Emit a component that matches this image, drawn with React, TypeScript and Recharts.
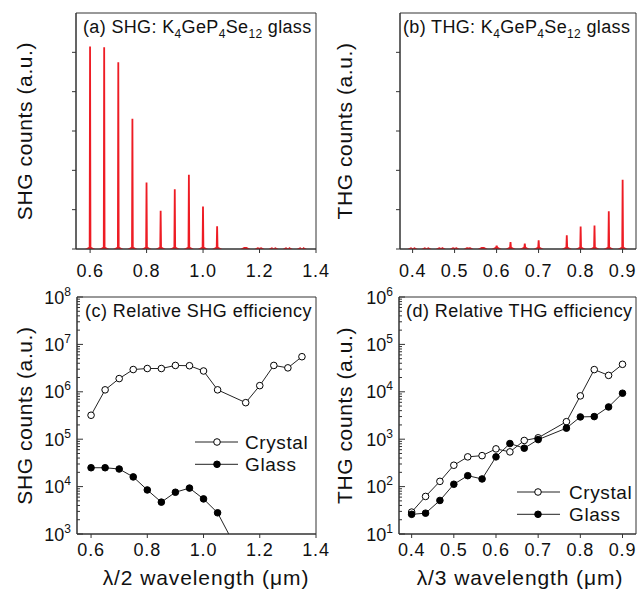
import React from "react";
import {
  BarChart,
  Bar,
  LineChart,
  Line,
  XAxis,
  YAxis,
  ReferenceArea,
  Legend,
} from "recharts";

const FONT = '"Liberation Sans", Arial, Helvetica, sans-serif';
const AXIS = "#333";
const RED = "#ee1c24";

// (a) SHG spectra of the glass, peak heights in arbitrary units
const shgPeakX = [0.6, 0.65, 0.7, 0.75, 0.8, 0.85, 0.9, 0.95, 1.0, 1.05, 1.15, 1.2, 1.25, 1.3, 1.35];
const shgPeakCounts = [5.15, 5.13, 4.75, 3.31, 1.69, 0.97, 1.52, 1.89, 1.08, 0.58, 0.05, 0.03, 0.02, 0.02, 0.02];

// (b) THG spectra of the glass
const thgPeakX = [0.4, 0.433, 0.467, 0.5, 0.533, 0.567, 0.6, 0.633, 0.667, 0.7, 0.767, 0.8, 0.833, 0.867, 0.9];
const thgPeakCounts = [0.02, 0.02, 0.03, 0.03, 0.04, 0.05, 0.09, 0.18, 0.14, 0.22, 0.35, 0.57, 0.6, 0.96, 1.76];

// (c) relative SHG efficiency
const shgX = [0.6, 0.65, 0.7, 0.75, 0.8, 0.85, 0.9, 0.95, 1.0, 1.05, 1.15, 1.2, 1.25, 1.3, 1.35];
const shgCrystal = [3.2e5, 1.1e6, 1.9e6, 2.95e6, 3.1e6, 3.1e6, 3.6e6, 3.55e6, 2.75e6, 1.1e6, 5.9e5, 1.35e6, 3.6e6, 3.2e6, 5.5e6];
const shgGlass = [2.5e4, 2.5e4, 2.35e4, 1.6e4, 8.5e3, 4.7e3, 7.6e3, 9.3e3, 5.5e3, 2.8e3, 210];

// (d) relative THG efficiency
const thgX = [0.4, 0.433, 0.467, 0.5, 0.533, 0.567, 0.6, 0.633, 0.667, 0.7, 0.767, 0.8, 0.833, 0.867, 0.9];
const thgCrystal = [29, 62, 129, 282, 424, 450, 625, 540, 940, 1070, 2340, 8200, 29400, 22200, 38000];
const thgGlass = [26, 27.5, 51, 112, 170, 145, 424, 810, 646, 980, 1710, 2950, 3000, 4790, 9330];

const shgXTicks = [0.6, 0.8, 1.0, 1.2, 1.4];
const thgXTicks = [0.4, 0.5, 0.6, 0.7, 0.8, 0.9];
const spectrumYTicks = [0, 1, 2, 3, 4, 5];
const shgDecades = [3, 4, 5, 6, 7, 8];
const thgDecades = [1, 2, 3, 4, 5, 6];

function logTicks(decades: number[]) {
  const out: number[] = [];
  decades.forEach((d, i) => {
    out.push(Math.pow(10, d));
    if (i < decades.length - 1) {
      for (let m = 2; m <= 9; m++) out.push(m * Math.pow(10, d));
    }
  });
  return out;
}

const Spike = (props: any) => {
  const { x, y, width, height } = props;
  if (x == null || y == null) return null;
  const cx = x + width / 2;
  const base = y + height;
  const d = `M${cx - 5},${base} L${cx - 1.3},${base - 2} L${cx - 0.9},${y} L${cx + 0.9},${y} L${cx + 1.3},${base - 2} L${cx + 5},${base} Z`;
  return <path d={d} fill={RED} />;
};

const LogTick = (props: any) => {
  const { x, y, payload } = props;
  const lg = Math.log10(payload.value);
  const e = Math.round(lg);
  const major = Math.abs(lg - e) < 1e-6;
  return (
    <g>
      <line x1={x} x2={x + (major ? 6 : 3)} y1={y} y2={y} stroke={AXIS} />
      {major && (
        <text x={x - 6} y={y + 6.5} textAnchor="end" fontSize={18} fill="#111" fontFamily={FONT}>
          10
          <tspan dy={-8} fontSize={12}>
            {e}
          </tspan>
        </text>
      )}
    </g>
  );
};

function glassTitle(prefix: string, x: number, y: number) {
  return (
    <text x={x} y={y} fontSize={18} fill="#111" fontFamily={FONT} letterSpacing={0.35}>
      {prefix}K
      <tspan dy={5} fontSize={12}>4</tspan>
      <tspan dy={-5}>GeP</tspan>
      <tspan dy={5} fontSize={12}>4</tspan>
      <tspan dy={-5}>Se</tspan>
      <tspan dy={5} fontSize={12}>12</tspan>
      <tspan dy={-5}>{" glass"}</tspan>
    </text>
  );
}

function yTitle(text: string, x: number, y: number) {
  return (
    <text
      x={x}
      y={y}
      transform={`rotate(-90 ${x} ${y})`}
      textAnchor="middle"
      dominantBaseline="central"
      fontSize={21}
      letterSpacing={0.6}
      fill="#111"
      fontFamily={FONT}
    >
      {text}
    </text>
  );
}

type SpectrumProps = {
  left: number;
  width: number;
  marginRight: number;
  yAxisWidth: number;
  xs: number[];
  counts: number[];
  domain: [number, number];
  xTicks: number[];
  prefix: string;
  titleDx: number;
  yLabel: string;
};

function SpectrumPanel(p: SpectrumProps) {
  const data = p.xs.map((x, i) => ({ x, counts: p.counts[i] }));
  const H = 290;
  const top = 13;
  return (
    <div style={{ position: "absolute", left: p.left, top: 0 }}>
      <BarChart
        width={p.width}
        height={H}
        data={data}
        margin={{ top, right: p.marginRight, bottom: 0, left: 0 }}
        barSize={2}
        style={{ fontFamily: FONT }}
      >
        <XAxis
          dataKey="x"
          type="number"
          domain={p.domain}
          ticks={p.xTicks}
          interval={0}
          allowDataOverflow
          tickFormatter={(v: number) => v.toFixed(1)}
          height={41}
          tickSize={4}
          tickMargin={11}
          stroke={AXIS}
          tick={{ fontSize: 18, fill: "#111", letterSpacing: 0.8 }}
        />
        <YAxis
          type="number"
          domain={[0, 6]}
          ticks={spectrumYTicks}
          interval={0}
          width={p.yAxisWidth}
          tickSize={4}
          tickFormatter={() => ""}
          stroke={AXIS}
          label={{ content: () => yTitle(p.yLabel, 24, top + 118) }}
        />
        <ReferenceArea
          x1={p.domain[0]}
          x2={p.domain[1]}
          y1={0}
          y2={6}
          fill="none"
          stroke={AXIS}
          strokeOpacity={1}
          fillOpacity={0}
          label={{ content: () => glassTitle(p.prefix, p.yAxisWidth + p.titleDx, top + 20) }}
        />
        <Bar dataKey="counts" shape={<Spike />} isAnimationActive={false} />
      </BarChart>
    </div>
  );
}

type EffProps = {
  left: number;
  width: number;
  marginRight: number;
  yAxisWidth: number;
  xs: number[];
  crystal: number[];
  glass: number[];
  domain: [number, number];
  xTicks: number[];
  decades: number[];
  title: string;
  titleDx: number;
  yLabel: string;
  xLabel: string;
  xLabelX: number;
  legendLeft: number;
  legendTop: number;
  legendDotX: number;
  legendTextX: number;
};

function EfficiencyPanel(p: EffProps) {
  const data = p.xs.map((x, i) => ({
    x,
    crystal: p.crystal[i],
    glass: i < p.glass.length ? p.glass[i] : null,
  }));
  const H = 318;
  const top = 22;
  const yDomain: [number, number] = [Math.pow(10, p.decades[0]), Math.pow(10, p.decades[p.decades.length - 1])];
  const legendContent = () => (
    <svg width={130} height={46} style={{ display: "block", overflow: "visible" }}>
      {[
        { name: "Crystal", fill: "#fff", cy: 11 },
        { name: "Glass", fill: "#000", cy: 33.3 },
      ].map((r) => (
        <g key={r.name}>
          <line x1={3} x2={46} y1={r.cy} y2={r.cy} stroke="#222" />
          <circle cx={p.legendDotX} cy={r.cy} r={3.3} fill={r.fill} stroke="#000" />
          <text x={p.legendTextX} y={r.cy + 6.5} fontSize={19} letterSpacing={0.6} fill="#111" fontFamily={FONT}>
            {r.name}
          </text>
        </g>
      ))}
    </svg>
  );
  return (
    <div style={{ position: "absolute", left: p.left, top: 275 }}>
      <LineChart
        width={p.width}
        height={H}
        data={data}
        margin={{ top, right: p.marginRight, bottom: 0, left: 0 }}
        style={{ fontFamily: FONT }}
      >
        <XAxis
          dataKey="x"
          type="number"
          domain={p.domain}
          ticks={p.xTicks}
          interval={0}
          allowDataOverflow
          tickFormatter={(v: number) => v.toFixed(1)}
          height={59}
          tickSize={4}
          tickMargin={5}
          stroke={AXIS}
          tick={{ fontSize: 18, fill: "#111", letterSpacing: 0.8 }}
          label={{
            content: () => (
              <text
                x={p.xLabelX}
                y={310}
                textAnchor="middle"
                fontSize={21}
                letterSpacing={0.9}
                fill="#111"
                fontFamily={FONT}
              >
                {p.xLabel}
              </text>
            ),
          }}
        />
        <YAxis
          type="number"
          scale="log"
          domain={yDomain}
          allowDataOverflow
          ticks={logTicks(p.decades)}
          interval={0}
          width={p.yAxisWidth}
          tickLine={false}
          tickSize={0}
          tickMargin={0}
          stroke={AXIS}
          tick={<LogTick />}
          label={{ content: () => yTitle(p.yLabel, 24, top + 118.5) }}
        />
        <ReferenceArea
          x1={p.domain[0]}
          x2={p.domain[1]}
          y1={yDomain[0]}
          y2={yDomain[1]}
          fill="none"
          fillOpacity={0}
          stroke={AXIS}
          strokeOpacity={1}
          label={{
            content: () => (
              <text x={p.yAxisWidth + p.titleDx} y={top + 19.7} fontSize={18} letterSpacing={0.45} fill="#111" fontFamily={FONT}>
                {p.title}
              </text>
            ),
          }}
        />
        <Legend
          layout="horizontal"
          verticalAlign="middle"
          align="center"
          wrapperStyle={{ left: p.legendLeft, top: p.legendTop, width: 130, height: 46 }}
          content={legendContent}
        />
        <Line
          dataKey="crystal"
          name="Crystal"
          stroke="#222"
          strokeWidth={1}
          dot={{ r: 3.3, fill: "#fff", stroke: "#000", strokeWidth: 1 }}
          activeDot={false}
          isAnimationActive={false}
        />
        <Line
          dataKey="glass"
          name="Glass"
          stroke="#222"
          strokeWidth={1}
          dot={{ r: 3.3, fill: "#000", stroke: "#000", strokeWidth: 1 }}
          activeDot={false}
          isAnimationActive={false}
        />
      </LineChart>
    </div>
  );
}

export default function App() {
  return (
    <div
      style={{
        position: "absolute",
        left: 0,
        top: 0,
        width: 638,
        height: 593,
        background: "#fff",
        fontFamily: FONT,
      }}
    >
      <SpectrumPanel
        left={0}
        width={334}
        marginRight={18}
        yAxisWidth={76}
        xs={shgPeakX}
        counts={shgPeakCounts}
        domain={[0.55, 1.4]}
        xTicks={shgXTicks}
        prefix="(a) SHG: "
        titleDx={7}
        yLabel="SHG counts (a.u.)"
      />
      <SpectrumPanel
        left={320}
        width={318}
        marginRight={2}
        yAxisWidth={80}
        xs={thgPeakX}
        counts={thgPeakCounts}
        domain={[0.37, 0.932]}
        xTicks={thgXTicks}
        prefix="(b) THG: "
        titleDx={3}
        yLabel="THG counts (a.u.)"
      />
      <EfficiencyPanel
        left={0}
        width={334}
        marginRight={18}
        yAxisWidth={77}
        xs={shgX}
        crystal={shgCrystal}
        glass={shgGlass}
        domain={[0.55, 1.4]}
        xTicks={shgXTicks}
        decades={shgDecades}
        title="(c) Relative SHG efficiency"
        titleDx={8}
        yLabel="SHG counts (a.u.)"
        xLabel="λ/2 wavelength (μm)"
        xLabelX={206}
        legendLeft={192}
        legendTop={156}
        legendDotX={25}
        legendTextX={53}
      />
      <EfficiencyPanel
        left={320}
        width={318}
        marginRight={2}
        yAxisWidth={79}
        xs={thgX}
        crystal={thgCrystal}
        glass={thgGlass}
        domain={[0.37, 0.932]}
        xTicks={thgXTicks}
        decades={thgDecades}
        title="(d) Relative THG efficiency"
        titleDx={7}
        yLabel="THG counts (a.u.)"
        xLabel="λ/3 wavelength (μm)"
        xLabelX={200}
        legendLeft={194}
        legendTop={206}
        legendDotX={24}
        legendTextX={55}
      />
    </div>
  );
}
